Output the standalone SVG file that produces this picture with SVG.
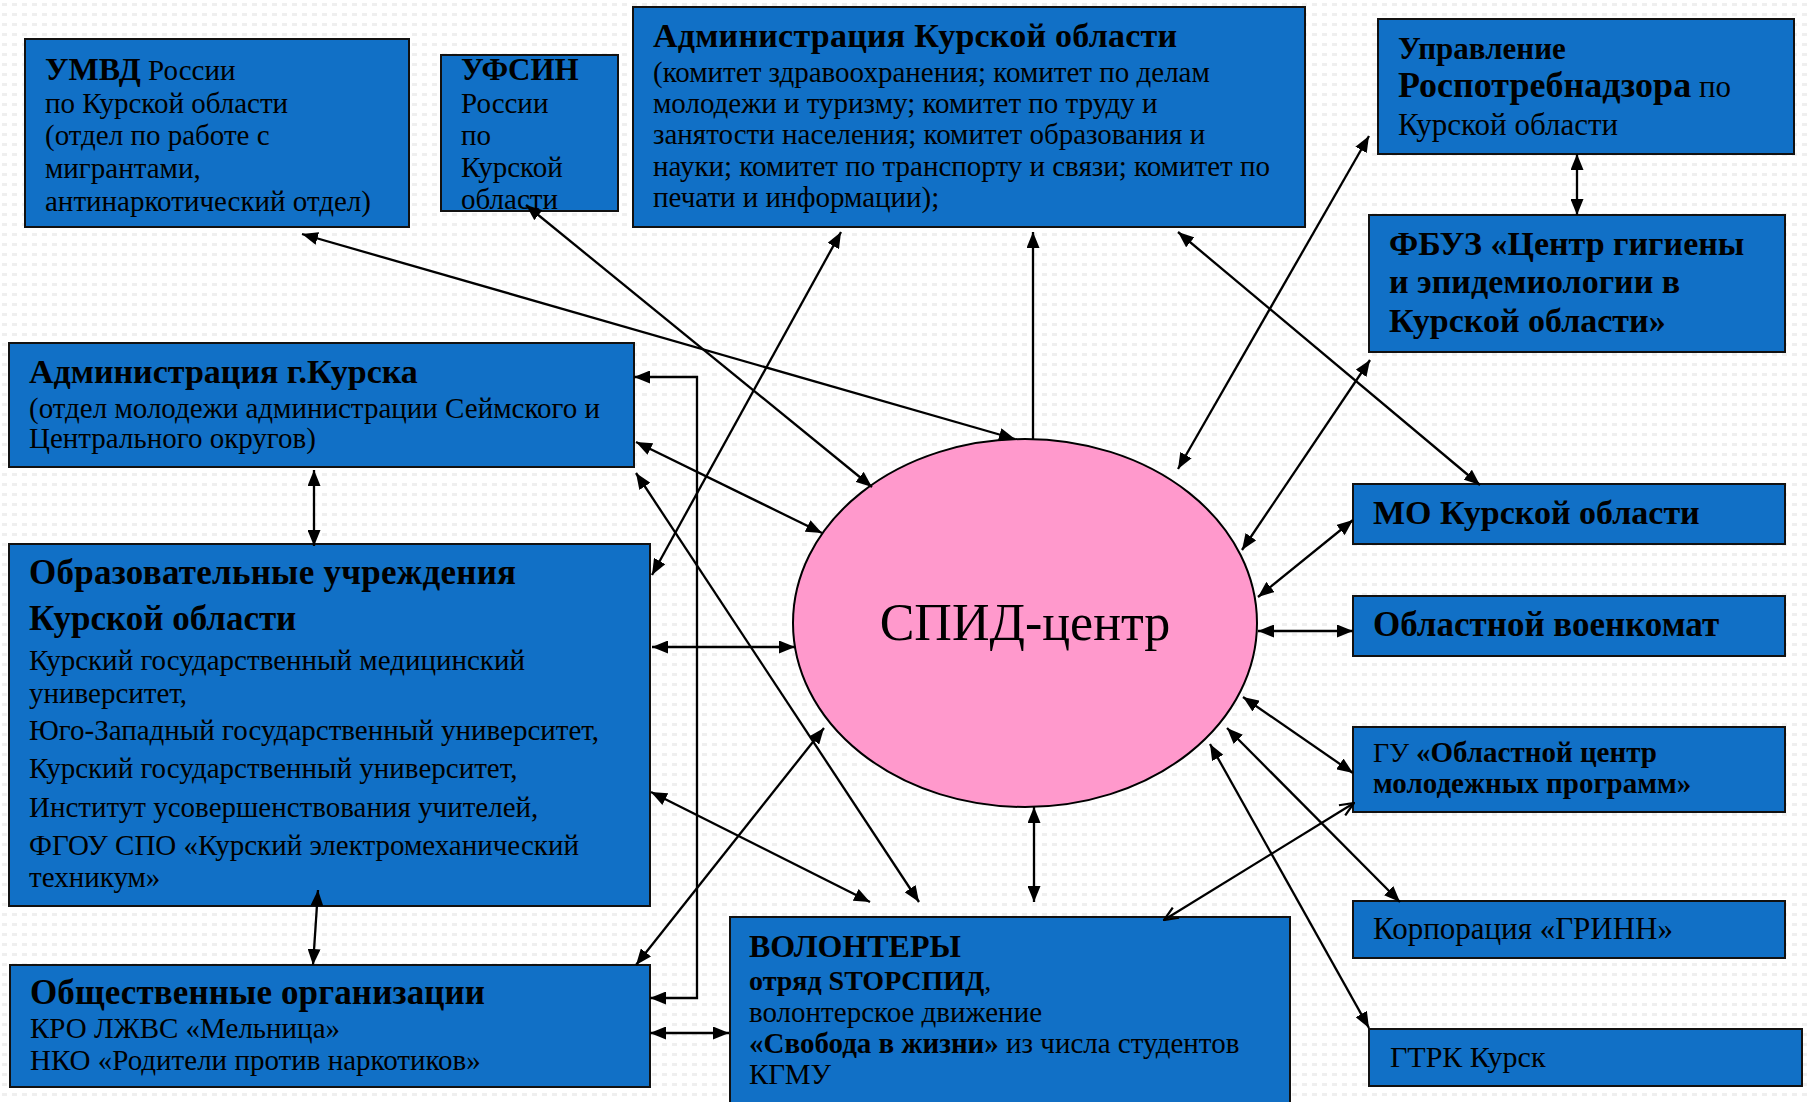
<svg xmlns="http://www.w3.org/2000/svg" width="1808" height="1102" viewBox="0 0 1808 1102" font-size="29">
<defs>
<pattern id="dots" width="10" height="10" patternUnits="userSpaceOnUse">
<rect x="2" y="3" width="5" height="3" fill="#efefef"/>
</pattern>
<marker id="ah" viewBox="0 0 16 13" refX="16" refY="6.5" markerWidth="16" markerHeight="13" markerUnits="userSpaceOnUse" orient="auto-start-reverse">
<path d="M0,0 L16,6.5 L0,13 z" fill="#000"/>
</marker>
<marker id="ao" viewBox="0 0 16 14" refX="15" refY="7" markerWidth="16" markerHeight="14" markerUnits="userSpaceOnUse" orient="auto-start-reverse">
<path d="M1,1 L15,7 L1,13" fill="none" stroke="#000" stroke-width="2.2"/>
</marker>
<style>
.box{fill:#1170c6;stroke:#111;stroke-width:2}
.t{font-family:"Liberation Serif","Times New Roman",serif;fill:#000}
.b{font-weight:bold}
.c line,.c path{stroke:#000;stroke-width:2.3;fill:none}
.d{marker-start:url(#ah);marker-end:url(#ah)}
.e{marker-end:url(#ah)}
.o{marker-start:url(#ao);marker-end:url(#ao)}
</style>
</defs>
<rect width="1808" height="1102" fill="#fff"/>
<rect width="1808" height="1102" fill="url(#dots)"/>

<g id="umvd">
<rect class="box" x="25" y="39" width="384" height="188"/>
<text class="t" x="45" y="80"><tspan class="b" font-size="32">УМВД</tspan> России</text>
<text class="t" x="45" y="113">по Курской области</text>
<text class="t" x="45" y="145">(отдел по работе с</text>
<text class="t" x="45" y="178">мигрантами,</text>
<text class="t" x="45" y="211">антинаркотический отдел)</text>
</g>

<g id="ufsin">
<rect class="box" x="441" y="55" width="177" height="156"/>
<text class="t b" x="461" y="80" font-size="31">УФСИН</text>
<text class="t" x="461" y="113">России</text>
<text class="t" x="461" y="145">по</text>
<text class="t" x="461" y="177">Курской</text>
<text class="t" x="461" y="209">области</text>
</g>

<g id="adm-obl">
<rect class="box" x="633" y="7" width="672" height="220"/>
<text class="t b" x="653" y="47" font-size="34" textLength="524">Администрация Курской области</text>
<text class="t" x="653" y="82">(комитет здравоохранения; комитет по делам</text>
<text class="t" x="653" y="113">молодежи и туризму; комитет по труду и</text>
<text class="t" x="653" y="144">занятости населения; комитет образования и</text>
<text class="t" x="653" y="176">науки; комитет по транспорту и связи; комитет по</text>
<text class="t" x="653" y="207">печати и информации);</text>
</g>

<g id="rospotreb">
<rect class="box" x="1378" y="19" width="416" height="135"/>
<text class="t b" x="1398" y="59" font-size="31">Управление</text>
<text class="t" x="1398" y="97" font-size="31"><tspan class="b" font-size="36">Роспотребнадзора</tspan> по</text>
<text class="t" x="1398" y="135" font-size="31">Курской области</text>
</g>

<g id="fbuz">
<rect class="box" x="1369" y="215" width="416" height="137"/>
<text class="t b" x="1389" y="255" font-size="34">ФБУЗ «Центр гигиены</text>
<text class="t b" x="1389" y="293" font-size="34">и эпидемиологии в</text>
<text class="t b" x="1389" y="332" font-size="34">Курской области»</text>
</g>

<g id="adm-kursk">
<rect class="box" x="9" y="343" width="625" height="124"/>
<text class="t b" x="29" y="383" font-size="34">Администрация г.Курска</text>
<text class="t" x="29" y="418">(отдел молодежи администрации Сеймского и</text>
<text class="t" x="29" y="448">Центрального округов)</text>
</g>

<g id="obraz">
<rect class="box" x="9" y="544" width="641" height="362"/>
<text class="t b" x="29" y="584" font-size="35" textLength="487">Образовательные учреждения</text>
<text class="t b" x="29" y="630" font-size="35">Курской области</text>
<text class="t" x="29" y="670">Курский государственный медицинский</text>
<text class="t" x="29" y="703">университет,</text>
<text class="t" x="29" y="740">Юго-Западный государственный университет,</text>
<text class="t" x="29" y="778">Курский государственный университет,</text>
<text class="t" x="29" y="817">Институт усовершенствования учителей,</text>
<text class="t" x="29" y="855">ФГОУ СПО «Курский электромеханический</text>
<text class="t" x="29" y="887">техникум»</text>
</g>

<g id="obsch">
<rect class="box" x="10" y="965" width="640" height="122"/>
<text class="t b" x="30" y="1004" font-size="35" textLength="455">Общественные организации</text>
<text class="t" x="30" y="1038">КРО ЛЖВС «Мельница»</text>
<text class="t" x="30" y="1070">НКО «Родители против наркотиков»</text>
</g>

<g id="volont">
<rect class="box" x="730" y="917" width="560" height="190"/>
<text class="t b" x="749" y="957" font-size="32">ВОЛОНТЕРЫ</text>
<text class="t" x="749" y="990" font-size="28"><tspan class="b">отряд STOPСПИД</tspan>,</text>
<text class="t" x="749" y="1022" font-size="29">волонтерское движение</text>
<text class="t" x="749" y="1053" font-size="29"><tspan class="b">«Свобода в жизни»</tspan> из числа студентов</text>
<text class="t" x="749" y="1084" font-size="29">КГМУ</text>
</g>

<g id="mo">
<rect class="box" x="1353" y="484" width="432" height="60"/>
<text class="t b" x="1373" y="524" font-size="34">МО Курской области</text>
</g>

<g id="voenkomat">
<rect class="box" x="1353" y="596" width="432" height="60"/>
<text class="t b" x="1373" y="636" font-size="35">Областной военкомат</text>
</g>

<g id="gu">
<rect class="box" x="1353" y="727" width="432" height="85"/>
<text class="t" x="1373" y="762" font-size="28">ГУ <tspan class="b" font-size="29">«Областной центр</tspan></text>
<text class="t b" x="1373" y="793" font-size="29">молодежных программ»</text>
</g>

<g id="grinn">
<rect class="box" x="1353" y="901" width="432" height="57"/>
<text class="t" x="1373" y="939" font-size="31">Корпорация «ГРИНН»</text>
</g>

<g id="gtrk">
<rect class="box" x="1369" y="1029" width="433" height="57"/>
<text class="t" x="1390" y="1067" font-size="30">ГТРК Курск</text>
</g>

<g id="spid">
<ellipse cx="1025" cy="623" rx="232" ry="184" fill="#ff99cc" stroke="#000" stroke-width="2"/>
<text class="t" x="1025" y="640" font-size="52" text-anchor="middle">СПИД-центр</text>
</g>

<g id="connectors" class="c">
<line class="d" x1="302" y1="234" x2="1015" y2="439"/>
<line class="d" x1="526" y1="205" x2="872" y2="487"/>
<line class="d" x1="841" y1="232" x2="652" y2="575"/>
<line class="e" x1="1033" y1="439" x2="1033" y2="232"/>
<line class="d" x1="1178" y1="232" x2="1480" y2="485"/>
<line class="d" x1="1178" y1="469" x2="1369" y2="136"/>
<line class="d" x1="1577" y1="154" x2="1577" y2="215"/>
<line class="d" x1="1242" y1="550" x2="1370" y2="360"/>
<line class="d" x1="1258" y1="597" x2="1353" y2="520"/>
<line class="d" x1="1258" y1="631" x2="1353" y2="631"/>
<line class="d" x1="1243" y1="697" x2="1353" y2="773"/>
<line class="o" x1="1164" y1="920" x2="1354" y2="803"/>
<line class="d" x1="1227" y1="728" x2="1400" y2="902"/>
<line class="d" x1="1210" y1="744" x2="1369" y2="1028"/>
<line class="d" x1="1034" y1="807" x2="1034" y2="902"/>
<line class="d" x1="824" y1="728" x2="636" y2="965"/>
<line class="d" x1="651" y1="792" x2="870" y2="902"/>
<line class="d" x1="636" y1="473" x2="919" y2="902"/>
<line class="d" x1="636" y1="442" x2="822" y2="533"/>
<line class="d" x1="652" y1="647" x2="795" y2="647"/>
<path class="d" d="M634,377 H697 V998 H650"/>
<line class="d" x1="314" y1="470" x2="314" y2="546"/>
<line class="d" x1="318" y1="890" x2="313" y2="965"/>
<line class="d" x1="650" y1="1033" x2="729" y2="1033"/>
</g>
</svg>
